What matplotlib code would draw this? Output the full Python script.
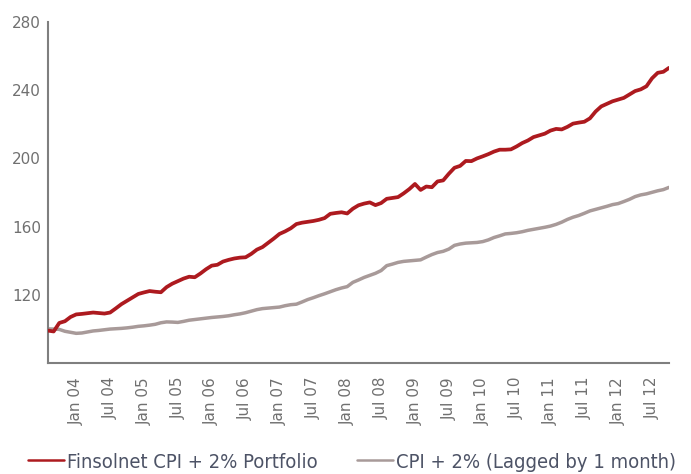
import matplotlib
matplotlib.use("Agg")
import matplotlib.pyplot as plt
import numpy as np

# Monthly data, Aug 2003 .. Oct 2012 (month index -5 .. 105, 0 = Jan 2004)
portfolio = [99, 98.5, 103.5, 104.5, 107, 108.5, 108.8, 109.2, 109.6, 109.3,
             109, 109.6, 112, 114.5, 116.5, 118.5, 120.5, 121.4, 122.2, 121.8,
             121.5, 124.5, 126.5, 128, 129.5, 130.6, 130.3, 132.5, 135, 137.1,
             137.6, 139.5, 140.5, 141.3, 141.8, 142, 144, 146.5, 148, 150.5,
             153, 155.7, 157.2, 159, 161.5, 162.3, 162.8, 163.3, 164, 165,
             167.5, 168, 168.4, 167.7, 170.5, 172.5, 173.5, 174.2, 172.6, 173.8,
             176.3, 176.8, 177.3, 179.5, 182, 185, 181.5, 183.5, 183.1, 186.5,
             187.1, 191, 194.5, 195.6, 198.5, 198.4, 200, 201.2, 202.5, 204,
             205.1, 205.1, 205.3, 207, 209, 210.5, 212.5, 213.5, 214.5, 216.3,
             217.3, 217, 218.5, 220.4, 221, 221.5, 223.5, 227.5, 230.5, 232,
             233.5, 234.5, 235.5, 237.5, 239.5, 240.5, 242.3, 247, 250.2, 250.8,
             253.1]
cpi = [100, 99.9, 99.7, 98.6, 98, 97.4, 97.6, 98.2, 98.8, 99.1,
       99.5, 99.9, 100.1, 100.3, 100.6, 101, 101.5, 101.8, 102.2, 102.7,
       103.6, 104.1, 104, 103.8, 104.4, 105.1, 105.5, 105.9, 106.3, 106.7,
       107, 107.3, 107.7, 108.3, 108.8, 109.5, 110.4, 111.3, 111.9, 112.2,
       112.5, 112.8, 113.6, 114.2, 114.5, 115.8, 117.2, 118.3, 119.5, 120.6,
       121.8, 123, 124, 124.8, 127.3, 128.7, 130.2, 131.4, 132.6, 134.2,
       137.1, 138, 139, 139.6, 139.9, 140.2, 140.5, 142.1, 143.6, 144.8,
       145.5, 146.8, 149, 149.8, 150.3, 150.5, 150.7, 151.2, 152.2, 153.6,
       154.6, 155.7, 156, 156.4, 157, 157.8, 158.4, 159, 159.6, 160.3,
       161.3, 162.6, 164.2, 165.5, 166.5, 167.8, 169.2, 170.1, 171, 171.9,
       172.9, 173.5, 174.7, 176, 177.6, 178.6, 179.2, 180.1, 181, 181.7,
       183]
tick_labels = ["Jan 04", "Jul 04", "Jan 05", "Jul 05", "Jan 06", "Jul 06",
               "Jan 07", "Jul 07", "Jan 08", "Jul 08", "Jan 09", "Jul 09",
               "Jan 10", "Jul 10", "Jan 11", "Jul 11", "Jan 12", "Jul 12"]
y_ticks = [120, 160, 200, 240, 280]
series_names = ["Finsolnet CPI + 2% Portfolio", "CPI + 2% (Lagged by 1 month)"]

months = np.arange(-5, -5 + len(portfolio))
tick_pos = np.arange(0, 6 * len(tick_labels), 6)

fig = plt.figure(figsize=(6.91, 4.74), dpi=100)
ax = fig.add_axes([48 / 691, 1 - 363 / 474, (669 - 48) / 691, (363 - 22) / 474])

ax.plot(months, cpi, color="#a89a99", lw=2.5, solid_capstyle="round", label=series_names[1], zorder=2)
ax.plot(months, portfolio, color="#ad1a1f", lw=2.7, solid_capstyle="round", label=series_names[0], zorder=3)

ax.set_xlim(-5, 105)
ax.set_ylim(80, 280)
ax.set_yticks(y_ticks)
ax.set_xticks(tick_pos)
ax.set_xticklabels(tick_labels, rotation=90)
for s in ["top", "right"]:
    ax.spines[s].set_visible(False)
for s in ["left", "bottom"]:
    ax.spines[s].set_color("#7f7f7f")
    ax.spines[s].set_linewidth(1.5)
ax.tick_params(axis="both", length=0, colors="#707070", labelsize=11)
ax.tick_params(axis="x", pad=10)
ax.tick_params(axis="y", pad=5)

handles, labels = ax.get_legend_handles_labels()
order = [1, 0]
leg = fig.legend([handles[i] for i in order], [labels[i] for i in order],
                 loc="center", bbox_to_anchor=(352 / 691, 1 - 462 / 474), ncol=2,
                 frameon=False, handlelength=1.8, handletextpad=0.15, columnspacing=1.9,
                 prop={"family": ["DejaVu Sans"], "stretch": "condensed", "size": 14.5})
for t in leg.get_texts():
    t.set_color("#4d5366")
for l in leg.get_lines():
    l.set_linewidth(1.8)

fig.savefig("out.png", dpi=100)
